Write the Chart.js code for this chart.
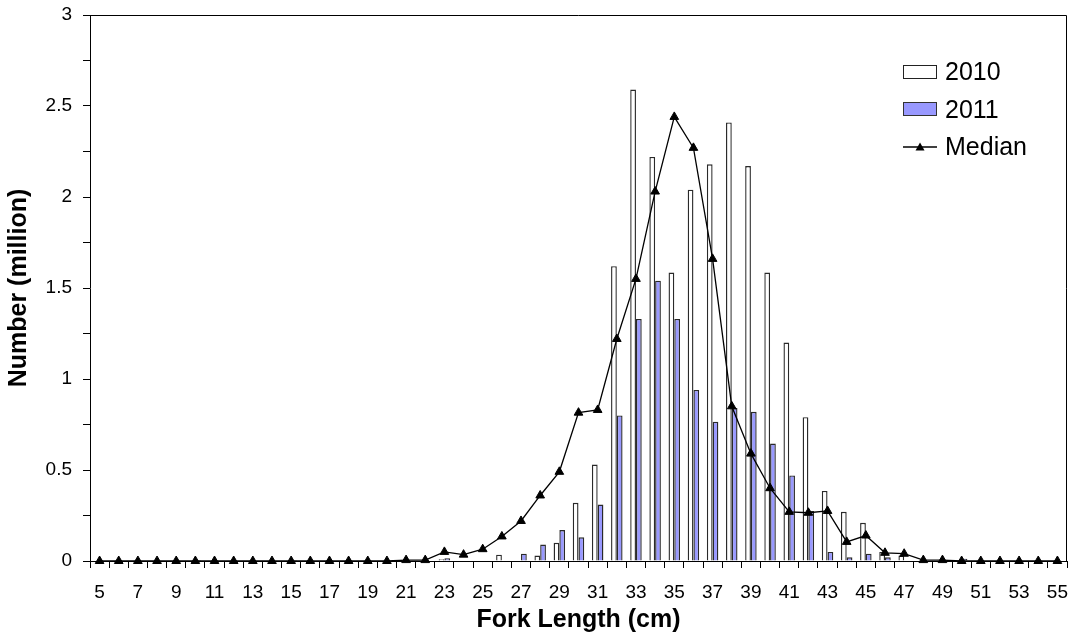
<!DOCTYPE html>
<html>
<head>
<meta charset="utf-8">
<script src="https://cdn.jsdelivr.net/npm/chart.js@4.4.1/dist/chart.umd.min.js"></script>
<style>
  html, body { margin: 0; padding: 0; background: #fff; }
  #wrap { position: relative; width: 1073px; height: 641px; }
  #legend { position: absolute; left: 903px; top: 53px; font-family: "Liberation Sans", Arial, sans-serif; font-size: 25px; color: #000; }
  .row { display: flex; align-items: center; height: 37.5px; }
  .sym { width: 34px; height: 14px; margin-right: 8px; box-sizing: border-box; }
  .s2010 { background: #fff; border: 1.5px solid #222; }
  .s2011 { background: #9999FF; border: 1.5px solid #333; }
  .sline { border: none; }
</style>
</head>
<body>
<div id="wrap">
  <canvas id="c" width="1073" height="641"></canvas>
  <div id="legend">
    <div class="row"><div class="sym s2010"></div><span>2010</span></div>
    <div class="row"><div class="sym s2011"></div><span>2011</span></div>
    <div class="row"><svg class="sym sline" viewBox="0 0 34 14"><line x1="0" y1="7" x2="34" y2="7" stroke="#000" stroke-width="1.3"/><polygon points="17,2.5 21.5,10.5 12.5,10.5" fill="#000"/></svg><span>Median</span></div>
  </div>
</div>
<script>
const categories = [5,6,7,8,9,10,11,12,13,14,15,16,17,18,19,20,21,22,23,24,25,26,27,28,29,30,31,32,33,34,35,36,37,38,39,40,41,42,43,44,45,46,47,48,49,50,51,52,53,54,55];
const series2010 = [0,0,0,0,0,0,0,0,0,0,0,0,0,0,0,0,0,0,0.01,0,0,0.035,0,0.03,0.1,0.32,0.53,1.62,2.59,2.22,1.585,2.04,2.18,2.41,2.17,1.585,1.2,0.79,0.385,0.27,0.21,0.05,0.03,0,0,0.005,0,0,0,0,0];
const series2011 = [0,0,0,0,0,0.005,0,0,0,0,0.005,0,0,0,0,0,0,0,0.015,0,0,0,0.04,0.09,0.17,0.13,0.31,0.8,1.33,1.54,1.33,0.94,0.765,0.84,0.82,0.645,0.47,0.275,0.05,0.02,0.04,0.02,0,0,0,0.012,0,0,0,0,0];
const seriesMedian = [0,0,0,0,0,0,0,0,0,0,0,0,0,0,0,0,0.005,0.005,0.05,0.035,0.065,0.135,0.22,0.36,0.49,0.815,0.83,1.22,1.55,2.03,2.44,2.27,1.66,0.85,0.59,0.4,0.27,0.265,0.275,0.105,0.14,0.045,0.04,0.005,0.005,0,0,0,0,0,0];
const yTicks = [0, 0.5, 1, 1.5, 2, 2.5, 3];

const FONT = '"Liberation Sans", Arial, sans-serif';

const frame = {
  id: 'frame',
  afterDatasetsDraw(chart) {
    const a = chart.chartArea, ctx = chart.ctx;
    ctx.save();
    ctx.strokeStyle = '#000';
    ctx.lineWidth = 1;
    ctx.beginPath();
    ctx.moveTo(a.left, a.top + 0.5);
    ctx.lineTo(a.right - 0.5, a.top + 0.5);
    ctx.lineTo(a.right - 0.5, a.bottom);
    ctx.stroke();
    ctx.restore();
  }
};

new Chart(document.getElementById('c'), {
  type: 'bar',
  data: {
    labels: categories,
    datasets: [
      { type: 'line', label: 'Median', data: seriesMedian, borderColor: '#000', backgroundColor: '#000', borderWidth: 1.3,
        pointStyle: 'triangle', pointRadius: 5, pointBackgroundColor: '#000', pointBorderColor: '#000', pointBorderWidth: 1,
        tension: 0, clip: false, order: 0 },
      { label: '2010', data: series2010, backgroundColor: '#ffffff', borderColor: '#2a2a2a', borderWidth: 1.4, order: 1,
        categoryPercentage: 0.6, barPercentage: 1.0, borderSkipped: 'bottom' },
      { label: '2011', data: series2011, backgroundColor: '#9999FF', borderColor: '#2a2a2a', borderWidth: 1.4, order: 1,
        categoryPercentage: 0.6, barPercentage: 1.0, borderSkipped: 'bottom' }
    ]
  },
  options: {
    responsive: false,
    animation: false,
    devicePixelRatio: 1,
    layout: { padding: { top: 15, right: 6, left: 0, bottom: 0 } },
    plugins: { legend: { display: false }, tooltip: { enabled: false } },
    scales: {
      x: {
        offset: true,
        grid: { display: true, drawOnChartArea: false, offset: true, tickLength: 7, color: '#000', lineWidth: 1 },
        border: { display: true, color: '#000', width: 1 },
        ticks: {
          autoSkip: false, maxRotation: 0, minRotation: 0, padding: 13, color: '#000',
          font: { family: FONT, size: 19 },
          callback: function(v, i) { const c = categories[i]; return (c % 2 === 1) ? String(c) : ''; }
        },
        title: { display: true, text: 'Fork Length (cm)', color: '#000', font: { family: FONT, size: 25, weight: 'bold' }, padding: { top: 0, bottom: 6 } },
        afterFit: function(s) { s.height = 80; s.paddingLeft = 0; s.paddingRight = 0; }
      },
      y: {
        min: 0, max: 3,
        grid: { display: true, drawOnChartArea: false, tickLength: 7, color: '#000', lineWidth: 1 },
        border: { display: true, color: '#000', width: 1 },
        ticks: {
          stepSize: 0.25, padding: 11, color: '#000',
          font: { family: FONT, size: 19 },
          callback: function(v) { return yTicks.some(t => Math.abs(t - v) < 1e-9) ? String(v) : ''; }
        },
        title: { display: true, text: 'Number (million)', color: '#000', font: { family: FONT, size: 25, weight: 'bold' }, padding: { top: 4, bottom: 0 } },
        afterFit: function(s) { s.width = 90; s.paddingTop = 0; s.paddingBottom = 0; }
      }
    }
  },
  plugins: [frame]
});
</script>
</body>
</html>
